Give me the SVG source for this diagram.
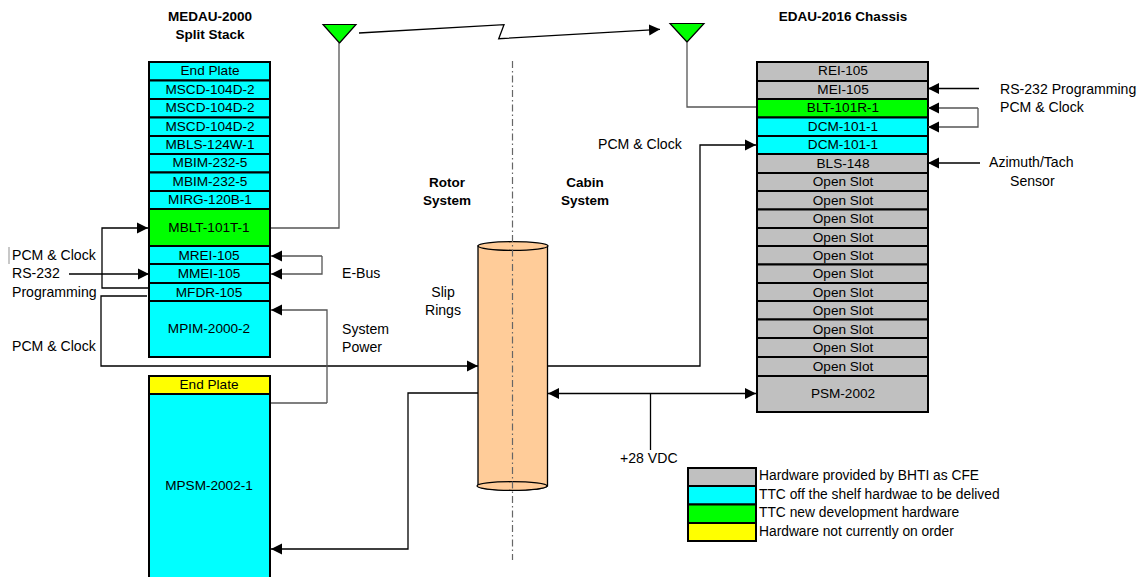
<svg xmlns="http://www.w3.org/2000/svg" width="1145" height="577" viewBox="0 0 1145 577">
<style>
text{font-family:"Liberation Sans",Arial,sans-serif;font-size:13.6px;fill:#000}
.c{text-anchor:middle}
.b{font-weight:bold;font-size:13.5px}
#labels text{font-size:14.1px}
#labels .b{font-size:13.5px}
#legend text{font-size:13.8px}
.box{stroke:#000;stroke-width:2}
.cy{fill:#0ff}.gn{fill:#0f0}.gy{fill:#c0c0c0}.ye{fill:#ff0}
.k,.g,.a,.ar{fill:none;stroke-width:1.3}
.k,.a{stroke:#000}
.g,.ar{stroke:#555}
.a,.ar{marker-end:url(#ah)}
.d{marker-start:url(#ah)}
</style>
<defs><marker id="ah" markerUnits="userSpaceOnUse" markerWidth="12" markerHeight="12" refX="11" refY="6" orient="auto-start-reverse"><path d="M0,0.5L11,6L0,11.5z" fill="#000"/></marker></defs>
<rect x="8" y="247" width="2" height="17" fill="#c8c8c8"/>
<g id="medau-title"><text class="c b" x="210" y="21">MEDAU-2000</text><text class="c b" x="210" y="39">Split Stack</text></g>
<g id="edau-title"><text class="c b" x="843" y="21">EDAU-2016 Chassis</text></g>
<g id="left-stack">
<g id="l1"><rect class="box cy" x="149" y="62" width="121" height="18.5"/><text class="c" x="210" y="75">End Plate</text></g>
<g id="l2"><rect class="box cy" x="149" y="80.500" width="121" height="18.500"/><text class="c" x="210" y="94">MSCD-104D-2</text></g>
<g id="l3"><rect class="box cy" x="149" y="99" width="121" height="18.500"/><text class="c" x="210" y="112">MSCD-104D-2</text></g>
<g id="l4"><rect class="box cy" x="149" y="117.500" width="121" height="18.500"/><text class="c" x="210" y="131">MSCD-104D-2</text></g>
<g id="l5"><rect class="box cy" x="149" y="136" width="121" height="18"/><text class="c" x="210" y="149">MBLS-124W-1</text></g>
<g id="l6"><rect class="box cy" x="149" y="154" width="121" height="18.500"/><text class="c" x="210" y="167">MBIM-232-5</text></g>
<g id="l7"><rect class="box cy" x="149" y="172.500" width="121" height="18.500"/><text class="c" x="210" y="186">MBIM-232-5</text></g>
<g id="l8"><rect class="box cy" x="149" y="191" width="121" height="18"/><text class="c" x="210" y="204">MIRG-120B-1</text></g>
<g id="l9"><rect class="box gn" x="149" y="209" width="121" height="37"/><text class="c" x="209" y="232">MBLT-101T-1</text></g>
<g id="l10"><rect class="box cy" x="149" y="246" width="121" height="18"/><text class="c" x="209" y="260">MREI-105</text></g>
<g id="l11"><rect class="box cy" x="149" y="264" width="121" height="19"/><text class="c" x="209" y="278">MMEI-105</text></g>
<g id="l12"><rect class="box cy" x="149" y="283" width="121" height="18"/><text class="c" x="209" y="297">MFDR-105</text></g>
<g id="l13"><rect class="box cy" x="149" y="301" width="121" height="56"/><text class="c" x="209" y="333">MPIM-2000-2</text></g>
<g id="l14"><rect class="box ye" x="149" y="376" width="121" height="18"/><text class="c" x="209" y="389">End Plate</text></g>
<g id="l15"><rect class="box cy" x="149" y="394" width="121" height="190"/><text class="c" x="209" y="490">MPSM-2002-1</text></g>
</g>
<g id="right-stack">
<g id="r1"><rect class="box gy" x="757" y="62" width="171" height="19"/><text class="c" x="843" y="75">REI-105</text></g>
<g id="r2"><rect class="box gy" x="757" y="81" width="171" height="18"/><text class="c" x="843" y="94">MEI-105</text></g>
<g id="r3"><rect class="box gn" x="757" y="99" width="171" height="18.500"/><text class="c" x="843" y="112">BLT-101R-1</text></g>
<g id="r4"><rect class="box cy" x="757" y="117.500" width="171" height="18.500"/><text class="c" x="843" y="131">DCM-101-1</text></g>
<g id="r5"><rect class="box cy" x="757" y="136" width="171" height="18"/><text class="c" x="843" y="149">DCM-101-1</text></g>
<g id="r6"><rect class="box gy" x="757" y="154" width="171" height="19"/><text class="c" x="843" y="168">BLS-148</text></g>
<g id="r7"><rect class="box gy" x="757" y="173" width="171" height="18"/><text class="c" x="843" y="186">Open Slot</text></g>
<g id="r8"><rect class="box gy" x="757" y="191" width="171" height="18.500"/><text class="c" x="843" y="205">Open Slot</text></g>
<g id="r9"><rect class="box gy" x="757" y="209.500" width="171" height="18.500"/><text class="c" x="843" y="223">Open Slot</text></g>
<g id="r10"><rect class="box gy" x="757" y="228" width="171" height="18"/><text class="c" x="843" y="242">Open Slot</text></g>
<g id="r11"><rect class="box gy" x="757" y="246" width="171" height="18.500"/><text class="c" x="843" y="260">Open Slot</text></g>
<g id="r12"><rect class="box gy" x="757" y="264.500" width="171" height="18.500"/><text class="c" x="843" y="278">Open Slot</text></g>
<g id="r13"><rect class="box gy" x="757" y="283" width="171" height="18"/><text class="c" x="843" y="297">Open Slot</text></g>
<g id="r14"><rect class="box gy" x="757" y="301" width="171" height="18.500"/><text class="c" x="843" y="315">Open Slot</text></g>
<g id="r15"><rect class="box gy" x="757" y="319.500" width="171" height="18.500"/><text class="c" x="843" y="334">Open Slot</text></g>
<g id="r16"><rect class="box gy" x="757" y="338" width="171" height="19"/><text class="c" x="843" y="352">Open Slot</text></g>
<g id="r17"><rect class="box gy" x="757" y="357" width="171" height="19"/><text class="c" x="843" y="371">Open Slot</text></g>
<g id="r18"><rect class="box gy" x="757" y="376" width="171" height="36"/><text class="c" x="843" y="398">PSM-2002</text></g>
</g>
<g id="antenna-left"><path d="M323,24.500H356L339.500,43z" fill="#0f0" stroke="#000" stroke-width="1.200"/></g>
<g id="antenna-right"><path d="M670,23.500H704L687,42z" fill="#0f0" stroke="#000" stroke-width="1.200"/></g>
<g id="slip-rings">
<path d="M478,246V486A35,4.500 0 0 0 547.500,486V246z" fill="#fc9" stroke="#000" stroke-width="1.300"/>
<ellipse cx="513" cy="246" rx="35" ry="4.300" fill="#fc9" stroke="#000" stroke-width="1.300"/>
<ellipse cx="512" cy="486" rx="35" ry="4.300" fill="#fc9" stroke="#000" stroke-width="1.300"/>
</g>
<g id="connectors">
<path d="M512.500,61V560" fill="none" stroke="#666" stroke-width="1.200" stroke-dasharray="7 3 1.500 3"/>
<path class="g" d="M271,228H339V43"/>
<path class="g" d="M687,42V107H756"/>
<path class="a" d="M359,33L504,24.700L498.700,38.700L660,29.300"/>
<path class="a" d="M148,288H102V228H148"/>
<path class="a" d="M69,274H149"/>
<path class="a" d="M147,296H101V366H478"/>
<path class="ar" d="M322,256V274H271"/>
<path class="ar" d="M322,256H271"/>
<path class="ar" d="M327,403V310H271"/>
<path class="g" d="M271,403H327"/>
<path class="a" d="M478,393H408V549H271"/>
<path class="a" d="M548,366H700V145H756"/>
<path class="a d" d="M548,393.500H756"/>
<path class="k" d="M650.500,393.500V450"/>
<path class="a" d="M979,88.500H928"/>
<path class="ar" d="M978,108V127H928"/>
<path class="ar" d="M978,108H928"/>
<path class="a" d="M980,163H928"/>
</g>
<g id="labels">
<text x="12" y="260">PCM &amp; Clock</text>
<text x="12" y="278">RS-232</text>
<text x="12" y="297">Programming</text>
<text x="12" y="351">PCM &amp; Clock</text>
<text x="342" y="278">E-Bus</text>
<text x="342" y="334">System</text>
<text x="342" y="352">Power</text>
<text class="c b" x="447" y="187">Rotor</text>
<text class="c b" x="447" y="205">System</text>
<text class="c b" x="585" y="187">Cabin</text>
<text class="c b" x="585" y="205">System</text>
<text class="c" x="443" y="297">Slip</text>
<text class="c" x="443" y="315">Rings</text>
<text x="598" y="149">PCM &amp; Clock</text>
<text x="1000" y="94">RS-232 Programming</text>
<text x="1000" y="112">PCM &amp; Clock</text>
<text x="989" y="167">Azimuth/Tach</text>
<text x="1010" y="186">Sensor</text>
<text x="620" y="463">+28 VDC</text>
</g>
<g id="legend">
<g id="lg1"><rect class="box gy" x="688" y="468" width="68" height="18"/><text x="759" y="480">Hardware provided by BHTI as CFE</text></g>
<g id="lg2"><rect class="box cy" x="688" y="486" width="68" height="18.500"/><text x="759" y="499">TTC off the shelf hardwae to be delived</text></g>
<g id="lg3"><rect class="box gn" x="688" y="504.500" width="68" height="18.500"/><text x="759" y="517">TTC new development hardware</text></g>
<g id="lg4"><rect class="box ye" x="688" y="523" width="68" height="18"/><text x="759" y="536">Hardware not currently on order</text></g>
</g>
</svg>
